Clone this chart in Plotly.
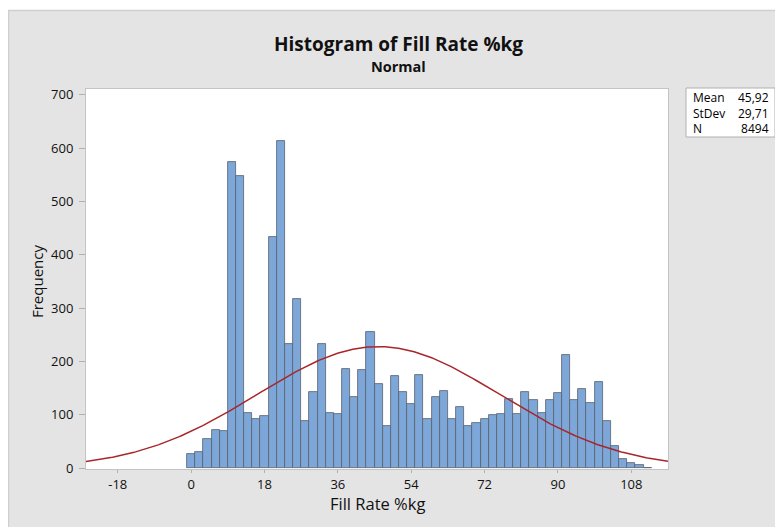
import numpy as np
import plotly.graph_objects as go

# Bin centres (bin width 2) and frequencies
bin_centers = list(range(0, 114, 2))
frequencies = [27, 30, 55, 71, 70, 574, 547, 104, 93, 98,
               433, 613, 233, 317, 88, 142, 233, 104, 102, 186,
               134, 184, 256, 157, 80, 172, 142, 121, 174, 92,
               133, 144, 93, 115, 79, 84, 92, 99, 101, 129,
               101, 142, 127, 104, 127, 141, 213, 128, 149, 122,
               162, 88, 41, 18, 10, 6, 1]
bin_width = 2

# Summary statistics shown in the chart
mean_val = 45.92
stdev_val = 29.71
n_val = 8494
stat_labels = ["Mean", "StDev", "N"]
stat_values = ["45,92", "29,71", "8494"]

x_ticks = [-18, 0, 18, 36, 54, 72, 90, 108]
y_ticks = [0, 100, 200, 300, 400, 500, 600, 700]

FONT = "Open Sans"
TXT = "#111111"

fig = go.Figure()
fig.add_trace(go.Bar(
    x=bin_centers, y=frequencies, width=bin_width,
    marker=dict(color="#7DA7D9", line=dict(color="#59606a", width=0.8)),
    hoverinfo="x+y", showlegend=False,
))

# Fitted normal curve (from displayed mean, stdev, N)
xc = np.linspace(-25.8, 117.0, 400)
yc = n_val * bin_width / (stdev_val * np.sqrt(2 * np.pi)) * np.exp(-0.5 * ((xc - mean_val) / stdev_val) ** 2)
fig.add_trace(go.Scatter(x=xc, y=yc, mode="lines",
                         line=dict(color="#A8262B", width=1.5),
                         hoverinfo="skip", showlegend=False))

# page has an 8px body margin, so figure coords = page coords - 8
OFF = 8
W, H = 783 - OFF, 527 - OFF
L, R, T, B = 86 - OFF, 668 - OFF, 89 - OFF, 469 - OFF
pw, ph = R - L, B - T

def px(xp):  # page x -> paper
    return (xp - OFF - L) / pw

def py(yp):  # page y -> paper
    return (B - (yp - OFF)) / ph

shapes = [
    dict(type="rect", xref="paper", yref="paper", x0=px(OFF), x1=px(OFF + W), y0=py(10), y1=py(OFF),
         fillcolor="white", line=dict(width=0), layer="above"),
    dict(type="line", xref="paper", yref="paper", x0=px(8.5), x1=px(8.5), y0=py(10), y1=py(527),
         line=dict(color="#cfcfcf", width=1.5)),
    dict(type="line", xref="paper", yref="paper", x0=px(8), x1=px(783), y0=py(10.5), y1=py(10.5),
         line=dict(color="#cfcfcf", width=1.5)),
    # stats box
    dict(type="rect", xref="paper", yref="paper", x0=px(686), x1=px(775), y0=py(137), y1=py(88),
         fillcolor="white", line=dict(color="#b0b0b0", width=1)),
]

annotations = [
    dict(text="<b>Histogram of Fill Rate %kg</b>", xref="paper", yref="paper",
         x=px(398), y=py(43.5), xanchor="center", yanchor="middle", showarrow=False,
         font=dict(family=FONT, size=19, color=TXT)),
    dict(text="<b>Normal</b>", xref="paper", yref="paper",
         x=px(398), y=py(66.5), xanchor="center", yanchor="middle", showarrow=False,
         font=dict(family=FONT, size=14.5, color=TXT)),
    dict(text="Fill Rate %kg", xref="paper", yref="paper",
         x=px(377), y=py(503), xanchor="center", yanchor="middle", showarrow=False,
         font=dict(family=FONT, size=16.5, color=TXT)),
    dict(text="Frequency", xref="paper", yref="paper", textangle=-90,
         x=px(37), y=py(281), xanchor="center", yanchor="middle", showarrow=False,
         font=dict(family=FONT, size=15, color=TXT)),
    dict(text="<br>".join(stat_labels), xref="paper", yref="paper", x=px(691), y=py(112.5),
         xanchor="left", yanchor="middle", align="left", showarrow=False,
         font=dict(family=FONT, size=12, color="#000000")),
    dict(text="<br>".join(stat_values), xref="paper", yref="paper", x=px(771), y=py(112.5),
         xanchor="right", yanchor="middle", align="right", showarrow=False,
         font=dict(family=FONT, size=12, color="#000000")),
]

fig.update_layout(
    width=W, height=H,
    margin=dict(l=L, r=W - R, t=T, b=H - B, pad=0),
    paper_bgcolor="#e4e4e4", plot_bgcolor="white",
    bargap=0, shapes=shapes, annotations=annotations,
    font=dict(family=FONT, color=TXT),
)
fig.update_xaxes(
    range=[-25.8, 117.0], tickvals=x_ticks, ticktext=[str(v) for v in x_ticks],
    showgrid=False, zeroline=False, showline=True, mirror=True, linecolor="#c4c4c4", linewidth=1,
    ticks="outside", ticklen=3, tickcolor="#b0b0b0", ticklabelstandoff=0,
    tickfont=dict(family=FONT, size=13, color=TXT),
)
fig.update_yaxes(
    range=[-1.5, 711], tickvals=y_ticks, ticktext=[str(v) for v in y_ticks],
    showgrid=False, zeroline=False, showline=True, mirror=True, linecolor="#c4c4c4", linewidth=1,
    ticks="outside", ticklen=6, tickcolor="#b0b0b0", ticklabelstandoff=3,
    tickfont=dict(family=FONT, size=13, color=TXT),
)

fig.write_html("out.html")
